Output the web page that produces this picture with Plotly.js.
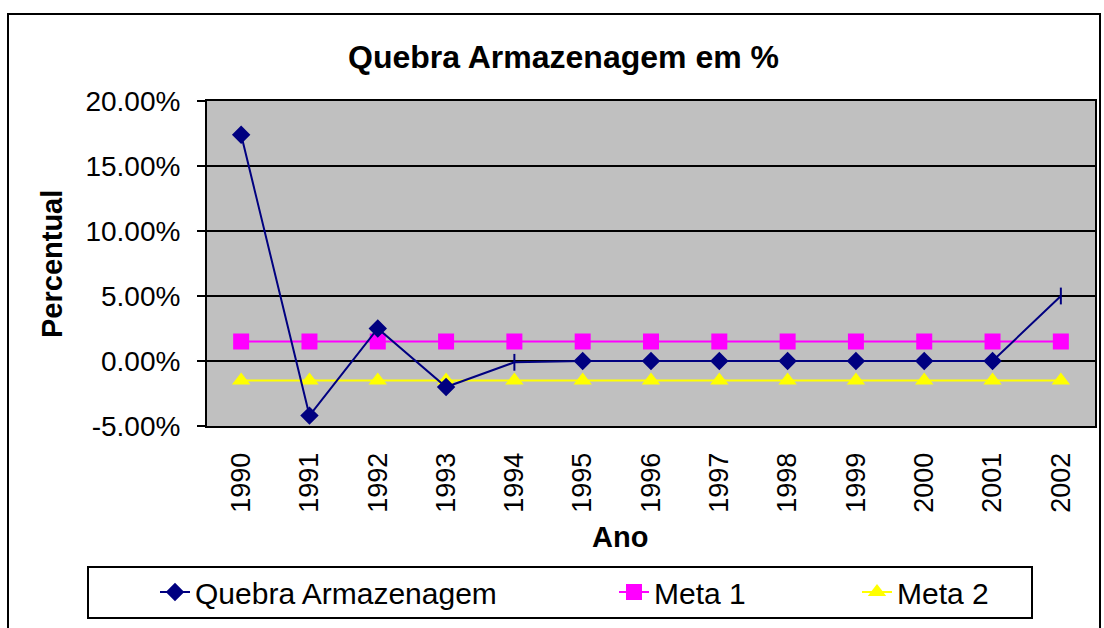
<!DOCTYPE html>
<html>
<head>
<meta charset="utf-8">
<script src="https://cdn.plot.ly/plotly-3.0.1.min.js"></script>
<style>
html,body{margin:0;padding:0;background:#fff;}
#chart{width:1104px;height:628px;}
</style>
</head>
<body>
<div id="chart"></div>
<script>
// Data
const years = ["1990","1991","1992","1993","1994","1995","1996","1997","1998","1999","2000","2001","2002"];
const quebra = [0.174, -0.042, 0.025, -0.020, -0.001, 0, 0, 0, 0, 0, 0, 0, 0.050];
const quebraSymbols = ["diamond","diamond","diamond","diamond","line-ns","diamond","diamond","diamond","diamond","diamond","diamond","diamond","line-ns"];
const meta1 = [0.015,0.015,0.015,0.015,0.015,0.015,0.015,0.015,0.015,0.015,0.015,0.015,0.015];
const meta2 = [-0.015,-0.015,-0.015,-0.015,-0.015,-0.015,-0.015,-0.015,-0.015,-0.015,-0.015,-0.015,-0.015];
const seriesNames = ["Quebra Armazenagem","Meta 1","Meta 2"];
const yTicks = [-0.05, 0, 0.05, 0.10, 0.15, 0.20];
const yTickLabels = ["-5.00%", "0.00%", "5.00%", "10.00%", "15.00%", "20.00%"];

const FONT = "Liberation Sans, Arial, sans-serif";

// plot-area pixel geometry helpers (for paper coords)
const L = 207, R = 1095, T = 101, B = 426, W = 1104, H = 628;
const px = x => (x - L) / (R - L);
const py = y => (B - y) / (B - T);

const traces = [
  {x: years, y: meta1, name: seriesNames[1], type: 'scatter', mode: 'lines+markers',
   line: {color: '#FF00FF', width: 2}, marker: {symbol: 'square', size: 16, color: '#FF00FF'},
   legend: 'legend2'},
  {x: years, y: meta2, name: seriesNames[2], type: 'scatter', mode: 'lines+markers',
   line: {color: '#FFFF00', width: 2}, marker: {symbol: 'triangle-up', size: 16, color: '#FFFF00'},
   legend: 'legend3'},
  {x: years, y: quebra, name: seriesNames[0], type: 'scatter', mode: 'lines+markers',
   line: {color: '#000080', width: 2},
   marker: {symbol: quebraSymbols, size: 12, color: '#000080', line: {color: '#000080', width: 2}},
   legend: 'legend'}
];

const legendBase = {
  orientation: 'h', xanchor: 'left', yanchor: 'middle', y: py(592),
  bgcolor: 'rgba(0,0,0,0)', borderwidth: 0,
  font: {family: FONT, size: 30, color: '#000'}
};

const layout = {
  width: W, height: H,
  margin: {l: L, r: W - R, t: T, b: H - B, pad: 0},
  paper_bgcolor: '#FFFFFF',
  plot_bgcolor: '#C0C0C0',
  showlegend: true,
  font: {family: FONT, color: '#000'},
  xaxis: {
    type: 'category', range: [-0.5, 12.5],
    showline: true, mirror: true, linecolor: '#000', linewidth: 2,
    showgrid: false, zeroline: false, ticks: '',
    tickangle: -90, tickfont: {family: FONT, size: 27, color: '#000'},
    ticklabelstandoff: 14
  },
  xaxis2: {
    type: 'linear', overlaying: 'x', anchor: 'free', position: py(361), side: 'bottom',
    range: [-0.5, 12.5], tick0: 0.5, dtick: 1,
    ticks: 'outside', ticklen: 9, tickwidth: 2, tickcolor: '#000',
    showline: true, linecolor: '#000', linewidth: 2,
    showticklabels: false, showgrid: false, zeroline: false
  },
  yaxis: {
    range: [-0.05, 0.20], tickvals: yTicks, ticktext: yTickLabels,
    showline: true, mirror: true, linecolor: '#000', linewidth: 2,
    showgrid: true, gridcolor: '#000', gridwidth: 1.5,
    zeroline: false,
    ticks: 'outside', ticklen: 8, tickwidth: 2, tickcolor: '#000',
    tickfont: {family: FONT, size: 28, color: '#000'},
    ticklabelstandoff: 11
  },
  legend: Object.assign({}, legendBase, {x: px(155)}),
  legend2: Object.assign({}, legendBase, {x: px(614)}),
  legend3: Object.assign({}, legendBase, {x: px(857)}),
  annotations: [
    {text: '<b>Quebra Armazenagem em %</b>', xref: 'paper', yref: 'paper',
     x: px(563), y: py(57), xanchor: 'center', yanchor: 'middle', showarrow: false,
     font: {family: FONT, size: 32, color: '#000'}},
    {text: '<b>Ano</b>', xref: 'paper', yref: 'paper',
     x: px(620), y: py(537), xanchor: 'center', yanchor: 'middle', showarrow: false,
     font: {family: FONT, size: 29, color: '#000'}},
    {text: '<b>Percentual</b>', xref: 'paper', yref: 'paper', textangle: -90,
     x: px(52), y: py(264), xanchor: 'center', yanchor: 'middle', showarrow: false,
     font: {family: FONT, size: 29, color: '#000'}}
  ],
  shapes: [
    {type: 'rect', xref: 'paper', yref: 'paper', x0: px(88), x1: px(1032), y0: py(567), y1: py(618),
     line: {color: '#000', width: 2}, fillcolor: 'rgba(0,0,0,0)', layer: 'below'},
    {type: 'rect', xref: 'paper', yref: 'paper', x0: px(8), x1: px(1100), y0: py(14), y1: py(640),
     line: {color: '#000', width: 2}, fillcolor: 'rgba(0,0,0,0)', layer: 'below'}
  ]
};

Plotly.newPlot('chart', traces, layout, {staticPlot: true, displayModeBar: false});
</script>
</body>
</html>
